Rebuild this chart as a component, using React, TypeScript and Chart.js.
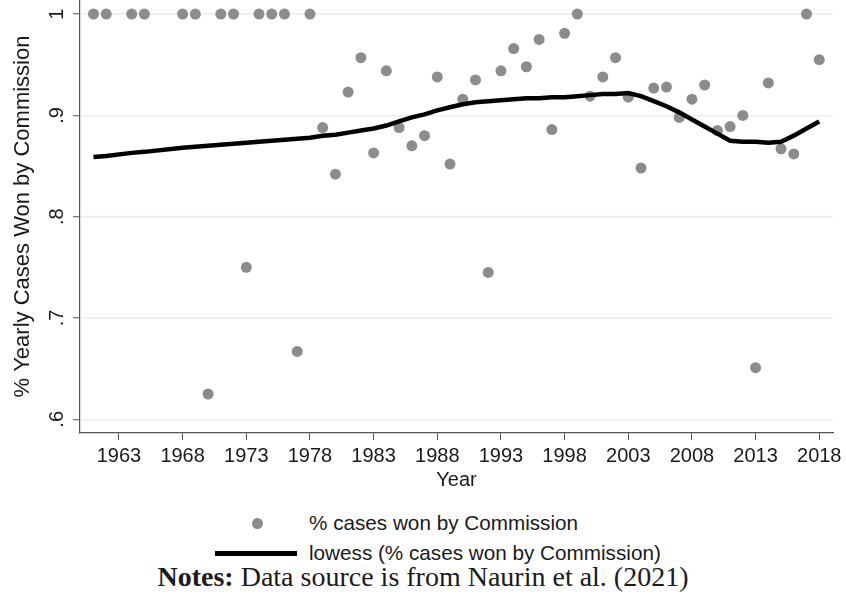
import React, { useEffect, useRef } from "react";
import { Chart, registerables } from "chart.js";

Chart.register(...registerables);

// ---- data ----
const years = [
  1961, 1962, 1964, 1965, 1968, 1969, 1970, 1971, 1972, 1973, 1974, 1975, 1976, 1977, 1978,
  1979, 1980, 1981, 1982, 1983, 1984, 1985, 1986, 1987, 1988, 1989, 1990, 1991, 1992, 1993,
  1994, 1995, 1996, 1997, 1998, 1999, 2000, 2001, 2002, 2003, 2004, 2005, 2006, 2007, 2008,
  2009, 2010, 2011, 2012, 2013, 2014, 2015, 2016, 2017, 2018,
];

const shareWon = [
  1.0, 1.0, 1.0, 1.0, 1.0, 1.0, 0.625, 1.0, 1.0, 0.75, 1.0, 1.0, 1.0, 0.667, 1.0,
  0.888, 0.842, 0.923, 0.957, 0.863, 0.944, 0.888, 0.87, 0.88, 0.938, 0.852, 0.916, 0.935, 0.745, 0.944,
  0.966, 0.948, 0.975, 0.886, 0.981, 1.0, 0.919, 0.938, 0.957, 0.918, 0.848, 0.927, 0.928, 0.898, 0.916,
  0.93, 0.885, 0.889, 0.9, 0.651, 0.932, 0.867, 0.862, 1.0, 0.955,
];

const lowessFit = [
  0.859, 0.86, 0.863, 0.864, 0.868, 0.869, 0.87, 0.871, 0.872, 0.873, 0.874, 0.875, 0.876, 0.877, 0.878,
  0.88, 0.881, 0.883, 0.885, 0.887, 0.89, 0.894, 0.898, 0.901, 0.905, 0.908, 0.911, 0.913, 0.914, 0.915,
  0.916, 0.917, 0.917, 0.918, 0.918, 0.919, 0.92, 0.921, 0.921, 0.922, 0.919, 0.914, 0.909, 0.903, 0.896,
  0.889, 0.882, 0.875, 0.874, 0.874, 0.873, 0.874, 0.88, 0.887, 0.894,
];

const xTickYears = [1963, 1968, 1973, 1978, 1983, 1988, 1993, 1998, 2003, 2008, 2013, 2018];
const yTickValues = [0.6, 0.7, 0.8, 0.9, 1.0];
const yTickLabels = [".6", ".7", ".8", ".9", "1"];

const seriesLabels = ["% cases won by Commission", "lowess (% cases won by Commission)"];
const xAxisTitle = "Year";
const yAxisTitle = "% Yearly Cases Won by Commission";
const noteLead = "Notes:";
const noteBody = " Data source is from Naurin et al. (2021)";

const SANS = '"Liberation Sans", Arial, Helvetica, sans-serif';
const SERIF = '"Liberation Serif", "Times New Roman", serif';
const POINT_COLOR = "#8c8c8c";
const TEXT_COLOR = "#1a1a1a";
const AXIS_COLOR = "#555555";

export default function App() {
  const canvasRef = useRef<HTMLCanvasElement | null>(null);

  useEffect(() => {
    const canvas = canvasRef.current;
    if (!canvas) return;
    const chart = new Chart(canvas, {
      type: "scatter",
      data: {
        datasets: [
          {
            type: "line",
            label: seriesLabels[1],
            data: years.map((yr, i) => ({ x: yr, y: lowessFit[i] })),
            borderColor: "#000000",
            backgroundColor: "#000000",
            borderWidth: 4.5,
            pointRadius: 0,
            tension: 0,
            fill: false,
            order: 0,
          } as any,
          {
            type: "scatter",
            label: seriesLabels[0],
            data: years.map((yr, i) => ({ x: yr, y: shareWon[i] })),
            backgroundColor: POINT_COLOR,
            borderColor: POINT_COLOR,
            borderWidth: 0,
            pointRadius: 5.5,
            order: 1,
          } as any,
        ],
      },
      options: {
        responsive: false,
        animation: false,
        layout: { autoPadding: false, padding: { top: 0, left: 0, bottom: 0, right: 13 } },
        plugins: { legend: { display: false }, tooltip: { enabled: false } },
        scales: {
          x: {
            type: "linear",
            min: 1959.94,
            max: 2019.08,
            afterBuildTicks: (s: any) => {
              s.ticks = xTickYears.map((v) => ({ value: v }));
            },
            afterFit: (s: any) => {
              s.height = 67;
              s.paddingLeft = 0;
              s.paddingRight = 0;
            },
            ticks: {
              autoSkip: false,
              maxRotation: 0,
              minRotation: 0,
              padding: 4,
              color: TEXT_COLOR,
              font: { family: SANS, size: 20 },
              callback: (v: any) => String(v),
            },
            grid: {
              drawOnChartArea: false,
              drawTicks: true,
              tickLength: 7,
              tickColor: AXIS_COLOR,
              tickWidth: 1,
            },
            border: { color: AXIS_COLOR, width: 1.2 },
            title: {
              display: true,
              text: xAxisTitle,
              color: TEXT_COLOR,
              font: { family: SANS, size: 20 },
              padding: { top: 0, bottom: 8 },
            },
          },
          y: {
            type: "linear",
            min: 0.5865,
            max: 1.0139,
            afterBuildTicks: (s: any) => {
              s.ticks = yTickValues.map((v) => ({ value: v }));
            },
            afterFit: (s: any) => {
              s.width = 80;
              s.paddingTop = 0;
              s.paddingBottom = 0;
            },
            ticks: {
              autoSkip: false,
              minRotation: 90,
              maxRotation: 90,
              crossAlign: "center",
              padding: 7,
              color: TEXT_COLOR,
              font: { family: SANS, size: 20 },
              callback: (v: any) => {
                let best = 0;
                yTickValues.forEach((t, i) => {
                  if (Math.abs(t - v) < Math.abs(yTickValues[best] - v)) best = i;
                });
                return yTickLabels[best];
              },
            },
            grid: {
              color: "#e4edf1",
              lineWidth: 1.5,
              drawTicks: true,
              tickLength: 7,
              tickColor: AXIS_COLOR,
              tickWidth: 1,
            },
            border: { color: AXIS_COLOR, width: 1.2 },
            title: {
              display: true,
              text: yAxisTitle,
              color: TEXT_COLOR,
              font: { family: SANS, size: 22 },
              padding: { top: 10, bottom: 0 },
            },
          },
        },
      } as any,
    });
    return () => chart.destroy();
  }, []);

  const textRow = (top: number, left: number, text: string) => (
    <div
      style={{
        position: "absolute",
        top: top - 14,
        left,
        height: 28,
        lineHeight: "28px",
        fontFamily: SANS,
        fontSize: 20.7,
        color: TEXT_COLOR,
        whiteSpace: "nowrap",
      }}
    >
      {text}
    </div>
  );

  return (
    <div
      style={{
        position: "fixed",
        top: 0,
        left: 0,
        width: 846,
        height: 597,
        background: "#ffffff",
        overflow: "hidden",
      }}
    >
      <canvas ref={canvasRef} width={846} height={500} style={{ display: "block", width: 846, height: 500 }} />
      {/* legend */}
      <div
        style={{
          position: "absolute",
          left: 257 - 5.5,
          top: 523 - 5.5,
          width: 11,
          height: 11,
          borderRadius: "50%",
          background: POINT_COLOR,
        }}
      />
      {textRow(523, 309, seriesLabels[0])}
      <div
        style={{
          position: "absolute",
          left: 215,
          top: 553 - 2.5,
          width: 82,
          height: 5,
          background: "#000000",
        }}
      />
      {textRow(553, 309, seriesLabels[1])}
      {/* notes */}
      <div
        style={{
          position: "absolute",
          top: 577 - 17,
          left: 0,
          width: 846,
          height: 34,
          lineHeight: "34px",
          textAlign: "center",
          fontFamily: SERIF,
          fontSize: 28,
          color: TEXT_COLOR,
          whiteSpace: "nowrap",
        }}
      >
        <b>{noteLead}</b>
        {noteBody}
      </div>
    </div>
  );
}
